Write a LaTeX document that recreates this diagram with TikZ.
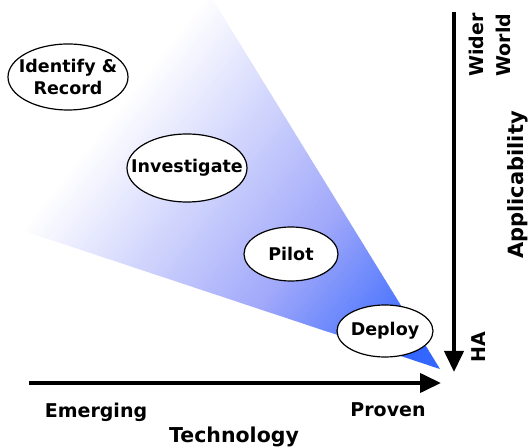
\documentclass[tikz,border=0pt]{standalone}
\usepackage{fontspec}
\setmainfont{DejaVu Sans}
\usetikzlibrary{arrows.meta,shapes.geometric}
\definecolor{coneblue}{RGB}{51,102,255}
\definecolor{conemid}{RGB}{160,168,250}
\begin{document}
\begin{tikzpicture}[x=1pt,y=1pt,
  stage/.style={ellipse, draw=black, line width=1.2pt, fill=white, inner sep=0pt},
  stagetext/.style={font=\fontsize{17.5}{22}\selectfont\bfseries, align=center, inner sep=0pt},
  lbl/.style={font=\fontsize{19}{27}\selectfont\bfseries, inner sep=0pt, align=center},
  title/.style={font=\fontsize{21}{25}\selectfont\bfseries, inner sep=0pt},
  axisarrow/.style={line width=4pt, -{Triangle[length=21pt,width=19pt]}}]
\useasboundingbox (0,0) rectangle (530,447);
% cone: blue at the tip, fading to white
\begin{scope}
  \clip (440,78) -- (213,447) -- (0,447) -- (0,224) -- cycle;
  \begin{scope}[shift={(440,78)},rotate=141.6]
    \foreach \i in {0,...,71} {
      \pgfmathtruncatemacro\p{max(0,min(100,100*(1-(\i*2.5+1.25-35)/145)))}
      \fill[coneblue!\p!conemid] (\i*2.5,-250) rectangle (\i*2.5+2.9,250);
    }
    \foreach \i in {72,...,179} {
      \pgfmathtruncatemacro\p{max(0,min(100,100*(1-(\i*2.5+1.25-180)/235)))}
      \fill[conemid!\p!white] (\i*2.5,-250) rectangle (\i*2.5+2.9,250);
    }
  \end{scope}
\end{scope}
% stages
\node[stage, minimum width=120pt, minimum height=66pt,
  label={[stagetext]center:Identify \&\\Record}] (identify) at (68,370) {};
\node[stage, minimum width=120pt, minimum height=68pt,
  label={[stagetext]center:Investigate}] (investigate) at (187,279) {};
\node[stage, minimum width=94pt, minimum height=54pt,
  label={[stagetext]center:Pilot}] (pilot) at (291,193) {};
\node[stage, minimum width=96pt, minimum height=52pt,
  label={[stagetext]center:Deploy}] (deploy) at (385,116) {};
% axes
\coordinate (hstart) at (29,64);
\coordinate (hend) at (441,64);
\coordinate (vstart) at (454,435);
\coordinate (vend) at (454,75);
\draw[axisarrow] (hstart) -- (hend);
\draw[axisarrow] (vstart) -- (vend);
% labels
\node[lbl, anchor=base] (emerging) at (96,29) {Emerging};
\node[lbl, anchor=base] (proven) at (388,30) {Proven};
\node[title, anchor=base, font=\fontsize{20.5}{25}\selectfont\bfseries] (technology) at (234,5) {Technology};
\node[lbl, rotate=90] (ha) at (479,100) {HA};
\node[lbl, rotate=90] (wider) at (490,402) {Wider\\World};
\node[title, rotate=90] (applic) at (518,262) {Applicability};
\end{tikzpicture}
\end{document}
